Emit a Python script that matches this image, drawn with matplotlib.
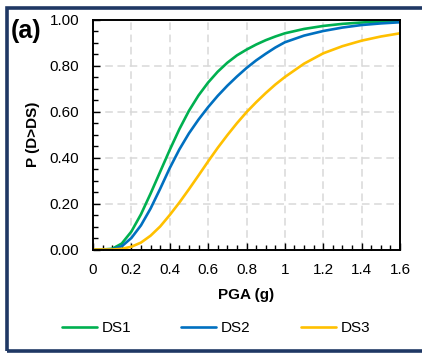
import matplotlib
matplotlib.use('Agg')
import matplotlib.pyplot as plt
from matplotlib.patches import Rectangle
from matplotlib.ticker import MultipleLocator

plt.rcParams['font.family'] = ['Liberation Sans', 'DejaVu Sans']

# PGA (g) and read-off exceedance probabilities
pga = [0.00, 0.05, 0.10, 0.15, 0.20, 0.25, 0.30, 0.35, 0.40, 0.45, 0.50,
       0.55, 0.60, 0.65, 0.70, 0.75, 0.80, 0.85, 0.90, 0.95, 1.00,
       1.10, 1.20, 1.30, 1.40, 1.50, 1.60]
ds1 = [0.000, 0.000, 0.003, 0.026, 0.078, 0.153, 0.243, 0.338, 0.433, 0.523, 0.603,
       0.670, 0.726, 0.773, 0.812, 0.844, 0.869, 0.891, 0.910, 0.926, 0.940,
       0.959, 0.972, 0.981, 0.987, 0.991, 0.994]
ds2 = [0.000, 0.000, 0.001, 0.014, 0.050, 0.105, 0.178, 0.264, 0.354, 0.435, 0.505,
       0.565, 0.619, 0.668, 0.712, 0.752, 0.789, 0.822, 0.851, 0.878, 0.901,
       0.930, 0.950, 0.965, 0.976, 0.983, 0.988]
ds3 = [0.000, 0.000, 0.000, 0.003, 0.012, 0.030, 0.060, 0.100, 0.150, 0.204, 0.262,
       0.322, 0.383, 0.442, 0.497, 0.549, 0.597, 0.640, 0.680, 0.717, 0.750,
       0.808, 0.853, 0.884, 0.908, 0.926, 0.940]

series = [('DS1', ds1, '#00B050'), ('DS2', ds2, '#0070C0'), ('DS3', ds3, '#FFC000')]

fig = plt.figure(figsize=(4.22, 3.53), dpi=100)
ax = fig.add_axes([93 / 422, 1 - 249.5 / 353, 307 / 422, 230 / 353])

for name, vals, col in series:
    ax.plot(pga, vals, color=col, lw=1.9, label=name,
            solid_capstyle='round', solid_joinstyle='round')

ax.set_xlim(0, 1.6)
ax.set_ylim(0, 1.0)
ax.xaxis.set_major_locator(MultipleLocator(0.2))
ax.xaxis.set_minor_locator(MultipleLocator(0.05))
ax.yaxis.set_major_locator(MultipleLocator(0.2))
ax.yaxis.set_minor_locator(MultipleLocator(0.05))
ax.set_xticks([0, 0.2, 0.4, 0.6, 0.8, 1.0, 1.2, 1.4, 1.6])
ax.set_xticklabels(['0', '0.2', '0.4', '0.6', '0.8', '1', '1.2', '1.4', '1.6'])
ax.set_yticks([0, 0.2, 0.4, 0.6, 0.8, 1.0])
ax.set_yticklabels(['0.00', '0.20', '0.40', '0.60', '0.80', '1.00'])

ax.tick_params(which='major', direction='in', length=5, width=1.0,
               labelsize=11, pad=10, colors='black')
ax.tick_params(which='minor', direction='in', length=3.5, width=1.0)
ax.tick_params(axis='x', which='both', top=False)
ax.tick_params(axis='y', which='both', right=False)

ax.grid(True, which='major', color='#D9D9D9', lw=1.1, ls=(0, (5, 3)))
ax.set_axisbelow(True)
for sp in ax.spines.values():
    sp.set_color('black')
    sp.set_linewidth(1.4)

ax.set_xlabel('PGA (g)', fontsize=11, fontweight='bold', labelpad=8)
ax.set_ylabel('P (D>DS)', fontsize=11, fontweight='bold', labelpad=7)

fig.text(26 / 422, 1 - 31 / 353, '(a)', fontsize=18, fontweight='bold',
         ha='center', va='center')

fig.legend(loc='center', bbox_to_anchor=(216 / 422, 1 - 328 / 353), ncol=3,
           frameon=False, fontsize=11, handlelength=2.3, handletextpad=0.3,
           columnspacing=3.3)

fig.patches.append(Rectangle((7 / 422, 1 - 351 / 353), 1.2, 343 / 353,
                             transform=fig.transFigure, fill=False,
                             edgecolor='#1F3864', lw=2.6, clip_on=False))

fig.savefig('out.png', dpi=100)
